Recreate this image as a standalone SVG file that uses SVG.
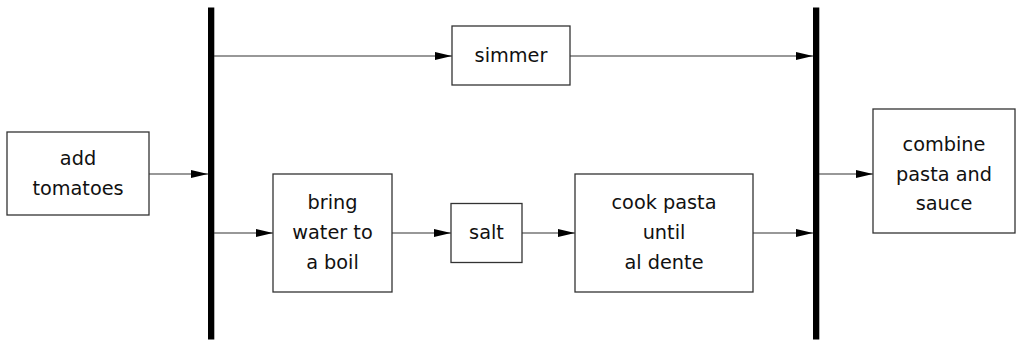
<svg xmlns="http://www.w3.org/2000/svg" width="1016" height="341" viewBox="0 0 1016 341">
<style>
.box{fill:#fff;stroke:#333;stroke-width:1.3}
.bar{fill:#000}
.ln{fill:none;stroke:#333;stroke-width:1.2;marker-end:url(#ah)}
.lp{fill:none;stroke:#333;stroke-width:1.2}
text{font-family:"DejaVu Sans",sans-serif;font-size:19.3px;fill:#111;text-anchor:middle}
</style>
<defs>
<marker id="ah" markerUnits="userSpaceOnUse" markerWidth="18" markerHeight="10" refX="17" refY="4.5" orient="auto">
<path d="M0,0.5 L17,4.5 L0,8.5 Z" fill="#000"/>
</marker>
</defs>
<g id="join-left"><rect class="bar" x="208" y="7.5" width="6.3" height="332"/></g>
<g id="join-right"><rect class="bar" x="813" y="7.5" width="6.3" height="332"/></g>
<g id="connectors">
<line class="ln" x1="149" y1="174" x2="208" y2="174"/>
<line class="ln" x1="214" y1="56" x2="452" y2="56"/>
<line class="ln" x1="570" y1="56" x2="813" y2="56"/>
<line class="ln" x1="214" y1="233" x2="273" y2="233"/>
<line class="ln" x1="392" y1="233" x2="451" y2="233"/>
<line class="ln" x1="522" y1="233" x2="575" y2="233"/>
<line class="ln" x1="753" y1="233" x2="813" y2="233"/>
<line class="ln" x1="819" y1="174" x2="873" y2="174"/>
</g>
<g id="add-tomatoes"><rect class="box" x="7" y="132" width="142" height="83"/>
<text x="78" y="165">add</text><text x="78" y="194.5">tomatoes</text></g>
<g id="simmer"><rect class="box" x="452" y="26" width="118" height="59"/>
<text x="511" y="61.5">simmer</text></g>
<g id="bring-water"><rect class="box" x="273" y="174" width="119" height="118"/>
<text x="332.5" y="208.5">bring</text><text x="332.5" y="238.5">water to</text><text x="332.5" y="268.5">a boil</text></g>
<g id="salt"><rect class="box" x="451" y="203.5" width="71" height="59"/>
<text x="486.5" y="238.5">salt</text></g>
<g id="cook-pasta"><rect class="box" x="575" y="174" width="178" height="118"/>
<text x="664" y="208.5">cook pasta</text><text x="664" y="238.5">until</text><text x="664" y="268.5">al dente</text></g>
<g id="combine"><rect class="box" x="873" y="109" width="142" height="124"/>
<text x="944" y="150.5">combine</text><text x="944" y="180.5">pasta and</text><text x="944" y="210">sauce</text></g>
</svg>
